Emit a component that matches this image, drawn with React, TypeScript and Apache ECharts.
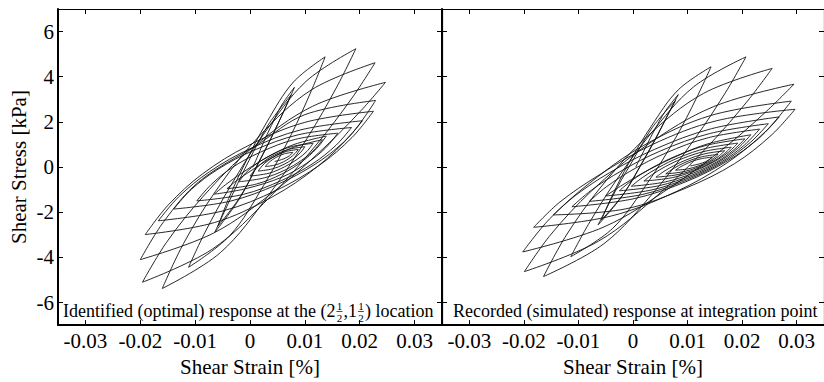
import { useEffect, useRef } from "react";
import * as echarts from "echarts";

type Pt = [number, number];

const xTicks = [-0.03, -0.02, -0.01, 0, 0.01, 0.02, 0.03];
const yTicks = [-6, -4, -2, 0, 2, 4, 6];
const xTitle = "Shear Strain [%]";
const yTitle = "Shear Stress [kPa]";
const leftNoteParts = ["Identified (optimal) response at the (2", ",1", ") location"];
const fractionParts = ["1", "2"];
const rightNote = "Recorded (simulated) response at integration point";

// Left panel: hysteresis branches (each branch runs from one reversal to the next)
const leftSteepBranches: Pt[][] = [
  [[0.0005, 0], [0.0013, 0.42], [0.0024, 1.06], [0.0039, 1.84], [0.0058, 2.75], [0.0081, 3.53]],
  [[0.0081, 3.53], [0.0067, 2.76], [0.0045, 1.61], [0.0016, 0.2], [-0.0021, -1.47], [-0.0064, -2.88]],
  [[-0.0064, -2.88], [-0.005, -2.15], [-0.0029, -1.06], [-0.0002, 0.28], [0.0033, 1.86], [0.0075, 3.2]],
  [[0.0075, 3.2], [0.0062, 2.5], [0.0042, 1.46], [0.0015, 0.18], [-0.0018, -1.32], [-0.0058, -2.6]],
  [[-0.0058, -2.6], [-0.0039, -1.4], [-0.0009, 0.17], [0.003, 1.96], [0.0079, 3.76], [0.0137, 4.88]],
  [[0.0137, 4.88], [0.0112, 3.39], [0.0075, 1.43], [0.0025, -0.81], [-0.0037, -3.04], [-0.0112, -4.44]],
  [[-0.0112, -4.44], [-0.0082, -2.89], [-0.0036, -0.86], [0.0025, 1.46], [0.0102, 3.79], [0.0193, 5.24]],
  [[0.0193, 5.24], [0.0158, 3.54], [0.0105, 1.31], [0.0034, -1.24], [-0.0054, -3.79], [-0.016, -5.38]],
];

const leftOuterBranches: Pt[][] = [
  [[-0.016, -5.38], [-0.0121, -3.38], [-0.0063, -1.08], [0.0015, 1.32], [0.0112, 3.42], [0.0228, 4.62]],
  [[0.0228, 4.62], [0.0186, 3.06], [0.0122, 1.02], [0.0037, -1.31], [-0.0069, -3.64], [-0.0196, -5.1]],
  [[-0.0196, -5.1], [-0.0152, -3.33], [-0.0085, -1.29], [0.0003, 0.83], [0.0114, 2.69], [0.0247, 3.75]],
  [[0.0247, 3.75], [0.0202, 2.49], [0.0135, 0.85], [0.0046, -1.04], [-0.0066, -2.92], [-0.02, -4.1]],
  [[-0.02, -4.1], [-0.0157, -2.41], [-0.0093, -0.65], [0.0013, 0.98], [0.01, 2.32], [0.0229, 2.95]],
  [[0.0229, 2.95], [0.0187, 1.52], [0.0124, 0.04], [0.004, -1.33], [-0.0065, -2.46], [-0.0191, -2.99]],
  [[-0.0191, -2.99], [-0.0149, -1.68], [-0.0087, -0.31], [-0.0004, 0.94], [0.01, 1.98], [0.0225, 2.47]],
  [[0.0225, 2.47], [0.0186, 1.31], [0.0127, 0.09], [0.0049, -1.02], [-0.0049, -1.94], [-0.0167, -2.38]],
  [[-0.0167, -2.38], [-0.013, -1.32], [-0.0074, -0.21], [0.0, 0.81], [0.0093, 1.65], [0.0205, 2.05]],
  [[0.0205, 2.05], [0.0171, 1.11], [0.0119, 0.13], [0.005, -0.77], [-0.0036, -1.51], [-0.0139, -1.86]],
  [[-0.0139, -1.86], [-0.0107, -0.99], [-0.0058, -0.09], [0.0007, 0.74], [0.0088, 1.43], [0.0185, 1.75]],
  [[0.0185, 1.75], [0.0157, 0.97], [0.0115, 0.16], [0.0058, -0.59], [-0.0012, -1.21], [-0.0097, -1.5]],
];

const leftInnerBranches: Pt[][] = [
  [[-0.0097, -1.5], [-0.0071, -0.78], [-0.0033, -0.03], [0.0019, 0.66], [0.0083, 1.23], [0.016, 1.5]],
  [[0.016, 1.5], [0.0138, 0.85], [0.0104, 0.18], [0.0059, -0.44], [-0.0008, -0.96], [-0.0065, -1.2]],
  [[-0.0065, -1.2], [-0.0045, -0.79], [-0.0014, -0.25], [0.0027, 0.37], [0.0078, 0.98], [0.0139, 1.37]],
  [[0.0139, 1.37], [0.0121, 0.81], [0.0094, 0.23], [0.0058, -0.31], [0.0012, -0.75], [-0.0042, -0.96]],
  [[-0.0042, -0.96], [-0.0025, -0.61], [0.0002, -0.16], [0.0036, 0.36], [0.008, 0.88], [0.0132, 1.21]],
  [[0.0132, 1.21], [0.0117, 0.76], [0.0094, 0.3], [0.0064, -0.13], [0.0026, -0.48], [-0.002, -0.65]],
  [[-0.002, -0.65], [-0.0007, -0.24], [0.0014, 0.18], [0.0041, 0.57], [0.0075, 0.9], [0.0115, 1.05]],
  [[0.0115, 1.05], [0.0104, 0.7], [0.0086, 0.34], [0.0063, 0.01], [0.0035, -0.27], [0.0, -0.4]],
  [[0.0, -0.4], [0.001, -0.09], [0.0025, 0.24], [0.0045, 0.54], [0.007, 0.78], [0.01, 0.9]],
  [[0.01, 0.9], [0.0092, 0.64], [0.0079, 0.37], [0.0062, 0.12], [0.0041, -0.08], [0.0015, -0.18]],
  [[0.0015, -0.18], [0.0022, 0.05], [0.0033, 0.29], [0.0048, 0.51], [0.0066, 0.69], [0.0088, 0.78]],
  [[0.0088, 0.78], [0.0082, 0.6], [0.0073, 0.41], [0.0061, 0.23], [0.0046, 0.09], [0.0028, 0.02]],
  [[0.0028, 0.02], [0.0033, 0.17], [0.0041, 0.33], [0.0051, 0.47], [0.0063, 0.59], [0.0078, 0.65]],
  [[0.0078, 0.65], [0.0072, 0.5], [0.0062, 0.37], [0.0052, 0.29], [0.0045, 0.25]],
];

// Right panel
const rightSteepBranches: Pt[][] = [
  [[0.0005, 0], [0.0013, 0.39], [0.0025, 0.96], [0.004, 1.67], [0.006, 2.5], [0.0083, 3.21]],
  [[0.0083, 3.21], [0.0068, 2.52], [0.0046, 1.48], [0.0017, 0.21], [-0.002, -1.29], [-0.0064, -2.56]],
  [[-0.0064, -2.56], [-0.005, -1.9], [-0.0029, -0.91], [0.0, 0.31], [0.0035, 1.74], [0.0078, 2.95]],
  [[0.0078, 2.95], [0.0064, 2.31], [0.0044, 1.36], [0.0017, 0.19], [-0.0017, -1.18], [-0.0058, -2.35]],
  [[-0.0058, -2.35], [-0.0038, -1.26], [-0.0008, 0.16], [0.0033, 1.79], [0.0083, 3.42], [0.0143, 4.44]],
  [[0.0143, 4.44], [0.0117, 3.09], [0.0079, 1.33], [0.0027, -0.69], [-0.0037, -2.71], [-0.0114, -3.97]],
  [[-0.0114, -3.97], [-0.0082, -2.55], [-0.0034, -0.7], [0.0031, 1.43], [0.0111, 3.55], [0.0207, 4.88]],
  [[0.0207, 4.88], [0.017, 3.32], [0.0114, 1.28], [0.004, -1.06], [-0.0053, -3.39], [-0.0164, -4.85]],
];

const rightOuterBranches: Pt[][] = [
  [[-0.0164, -4.85], [-0.0122, -3.01], [-0.0059, -0.89], [0.0025, 1.33], [0.0129, 3.26], [0.0255, 4.37]],
  [[0.0255, 4.37], [0.021, 2.93], [0.0142, 1.04], [0.0051, -1.12], [-0.0063, -3.28], [-0.0199, -4.63]],
  [[-0.0199, -4.63], [-0.015, -2.97], [-0.0076, -1.06], [0.0023, 0.93], [0.0147, 2.67], [0.0295, 3.67]],
  [[0.0295, 3.67], [0.0245, 2.48], [0.0171, 0.92], [0.0071, -0.86], [-0.0053, -2.65], [-0.0202, -3.76]],
  [[-0.0202, -3.76], [-0.0153, -2.3], [-0.0079, -0.7], [0.0019, 0.95], [0.0142, 2.28], [0.029, 2.92]],
  [[0.029, 2.92], [0.0243, 1.58], [0.0172, 0.18], [0.0078, -1.1], [-0.004, -2.17], [-0.0182, -2.67]],
  [[-0.0182, -2.67], [-0.0134, -1.55], [-0.0062, -0.35], [0.0034, 0.98], [0.0153, 2.05], [0.0297, 2.56]],
  [[0.0297, 2.56], [0.0253, 1.4], [0.0186, 0.15], [0.0098, -0.92], [-0.0013, -1.85], [-0.0146, -2.12]],
  [[-0.0146, -2.12], [-0.0105, -1.25], [-0.0043, -0.25], [0.004, 0.79], [0.0144, 1.7], [0.0268, 2.22]],
  [[0.0268, 2.22], [0.023, 1.26], [0.0173, 0.27], [0.0097, -0.65], [0.0002, -1.4], [-0.0112, -1.76]],
  [[-0.0112, -1.76], [-0.0076, -1.02], [-0.0022, -0.18], [0.005, 0.71], [0.014, 1.48], [0.0248, 1.92]],
  [[0.0248, 1.92], [0.0215, 1.09], [0.0166, 0.23], [0.01, -0.56], [0.0018, -1.21], [-0.008, -1.52]],
];

const rightInnerBranches: Pt[][] = [
  [[-0.008, -1.52], [-0.0049, -0.88], [-0.0002, -0.14], [0.006, 0.62], [0.0138, 1.3], [0.0232, 1.68]],
  [[0.0232, 1.68], [0.0204, 0.97], [0.0162, 0.23], [0.0105, -0.45], [0.0035, -1.01], [-0.005, -1.28]],
  [[-0.005, -1.28], [-0.0023, -0.85], [0.0017, -0.28], [0.007, 0.37], [0.0136, 1.02], [0.0216, 1.43]],
  [[0.0216, 1.43], [0.0192, 0.83], [0.0156, 0.21], [0.0108, -0.36], [0.0047, -0.83], [-0.0025, -1.05]],
  [[-0.0025, -1.05], [-0.0002, -0.59], [0.0033, -0.06], [0.0079, 0.49], [0.0136, 0.97], [0.0205, 1.25]],
  [[0.0205, 1.25], [0.0184, 0.75], [0.0153, 0.22], [0.0111, -0.26], [0.0059, -0.66], [-0.0003, -0.85]],
  [[-0.0003, -0.85], [0.0017, -0.47], [0.0046, -0.03], [0.0085, 0.43], [0.0134, 0.83], [0.0192, 1.06]],
  [[0.0192, 1.06], [0.0175, 0.66], [0.0149, 0.24], [0.0115, -0.15], [0.0072, -0.47], [0.002, -0.62]],
  [[0.002, -0.62], [0.0036, -0.32], [0.006, 0.03], [0.0092, 0.39], [0.0132, 0.7], [0.018, 0.88]],
  [[0.018, 0.88], [0.0166, 0.56], [0.0146, 0.23], [0.0118, -0.08], [0.0083, -0.33], [0.0042, -0.45]],
  [[0.0042, -0.45], [0.0055, -0.22], [0.0074, 0.05], [0.0099, 0.33], [0.013, 0.58], [0.0168, 0.72]],
  [[0.0168, 0.72], [0.0157, 0.48], [0.0141, 0.22], [0.0119, -0.01], [0.0092, -0.21], [0.006, -0.3]],
  [[0.006, -0.3], [0.007, -0.13], [0.0084, 0.07], [0.0103, 0.28], [0.0127, 0.46], [0.0156, 0.56]],
  [[0.0156, 0.56], [0.0148, 0.39], [0.0137, 0.22], [0.0121, 0.06], [0.0101, -0.08], [0.0078, -0.14]],
  [[0.0078, -0.14], [0.0085, -0.02], [0.0095, 0.11], [0.0108, 0.25], [0.0125, 0.37], [0.0145, 0.44]],
  [[0.0145, 0.44], [0.0138, 0.3], [0.0127, 0.18], [0.0115, 0.1], [0.0105, 0.05]],
];

const FONT = "'Liberation Serif', 'Times New Roman', serif";
const INK = "#111";

function measure(text: string, size: number): number {
  const ctx = document.createElement("canvas").getContext("2d");
  if (!ctx) return text.length * size * 0.45;
  ctx.font = `${size}px 'Liberation Serif'`;
  return ctx.measureText(text).width;
}

function xAxisDef(grid: number, bottom: boolean) {
  return {
    type: "value",
    gridIndex: grid,
    position: bottom ? "bottom" : "top",
    min: -0.035,
    max: 0.035,
    axisLine: { show: true, onZero: false, lineStyle: { color: "#000", width: bottom ? 2 : 1.2 } },
    axisTick: {
      show: true,
      inside: true,
      length: 5,
      customValues: xTicks,
      lineStyle: { color: "#000", width: 1 },
    },
    axisLabel: {
      show: bottom,
      customValues: xTicks,
      margin: 5,
      fontSize: 21,
      fontFamily: FONT,
      color: "#000",
      formatter: (v: number) => (Math.abs(v) < 1e-9 ? "0" : String(v)),
    },
    splitLine: { show: false },
    name: bottom ? xTitle : "",
    nameLocation: "middle",
    nameGap: 30,
    nameTextStyle: { fontSize: 21, fontFamily: FONT, color: "#000" },
  };
}

function yAxisDef(grid: number, left: boolean, labels: boolean) {
  return {
    type: "value",
    gridIndex: grid,
    position: left ? "left" : "right",
    min: -7,
    max: 7,
    axisLine: { show: true, onZero: false, lineStyle: { color: "#000", width: left ? 2 : 1.2 } },
    axisTick: {
      show: true,
      inside: true,
      length: 5,
      customValues: yTicks,
      lineStyle: { color: "#000", width: 1 },
    },
    axisLabel: {
      show: labels,
      customValues: yTicks,
      margin: 4,
      fontSize: 21,
      fontFamily: FONT,
      color: "#000",
    },
    splitLine: { show: false },
    name: labels ? yTitle : "",
    nameLocation: "middle",
    nameGap: 29,
    nameTextStyle: { fontSize: 21, fontFamily: FONT, color: "#000" },
  };
}

export default function App() {
  const ref = useRef<HTMLDivElement>(null);

  useEffect(() => {
    if (!ref.current) return;
    const chart = echarts.init(ref.current, undefined, { renderer: "svg" });

    const panels = [
      { branches: [...leftSteepBranches, ...leftOuterBranches, ...leftInnerBranches], xi: 0, yi: 0 },
      { branches: [...rightSteepBranches, ...rightOuterBranches, ...rightInnerBranches], xi: 2, yi: 2 },
    ];
    const series = panels.flatMap((p) =>
      p.branches.map((b) => ({
        type: "line",
        xAxisIndex: p.xi,
        yAxisIndex: p.yi,
        data: b,
        symbol: "none",
        showSymbol: false,
        smooth: 0.35,
        silent: true,
        lineStyle: { color: INK, width: 0.9 },
      }))
    );

    // annotation with stacked fractions
    const noteSize = 18;
    const x0 = 63;
    const yMid = 311;
    const w1 = measure(leftNoteParts[0], noteSize);
    const w2 = measure(leftNoteParts[1], noteSize);
    const fw = 7;
    const fracEls = (fx: number) => [
      {
        type: "text",
        x: fx + fw / 2,
        y: yMid - 5.5,
        style: {
          text: fractionParts[0],
          font: `11px ${FONT}`,
          fill: "#000",
          align: "center",
          textAlign: "center",
          verticalAlign: "middle",
          textVerticalAlign: "middle",
        },
      },
      {
        type: "line",
        shape: { x1: fx + 0.5, y1: yMid + 0.5, x2: fx + fw - 0.5, y2: yMid + 0.5 },
        style: { stroke: "#000", lineWidth: 0.7 },
      },
      {
        type: "text",
        x: fx + fw / 2,
        y: yMid + 7,
        style: {
          text: fractionParts[1],
          font: `11px ${FONT}`,
          fill: "#000",
          align: "center",
          textAlign: "center",
          verticalAlign: "middle",
          textVerticalAlign: "middle",
        },
      },
    ];
    const textEl = (x: number, t: string) => ({
      type: "text",
      x,
      y: yMid,
      style: {
        text: t,
        font: `${noteSize}px ${FONT}`,
        fill: "#000",
        align: "left",
        textAlign: "left",
        verticalAlign: "middle",
        textVerticalAlign: "middle",
      },
    });
    const f1x = x0 + w1 + 0.5;
    const t2x = f1x + fw + 0.5;
    const f2x = t2x + w2 + 0.5;
    const t3x = f2x + fw + 0.5;

    const graphic = [
      textEl(x0, leftNoteParts[0]),
      ...fracEls(f1x),
      textEl(t2x, leftNoteParts[1]),
      ...fracEls(f2x),
      textEl(t3x, leftNoteParts[2]),
      textEl(453, rightNote),
    ];

    chart.setOption({
      animation: false,
      backgroundColor: "#fff",
      grid: [
        { left: 58, top: 9, width: 384, height: 322 },
        { left: 442, top: 9, width: 384, height: 322 },
      ],
      xAxis: [xAxisDef(0, true), xAxisDef(0, false), xAxisDef(1, true), xAxisDef(1, false)],
      yAxis: [yAxisDef(0, true, true), yAxisDef(0, false, false), yAxisDef(1, true, false), yAxisDef(1, false, false)],
      series,
      graphic,
    } as any);

    return () => chart.dispose();
  }, []);

  return (
    <div
      ref={ref}
      style={{ position: "absolute", left: 0, top: 0, width: 824, height: 382 }}
    />
  );
}
